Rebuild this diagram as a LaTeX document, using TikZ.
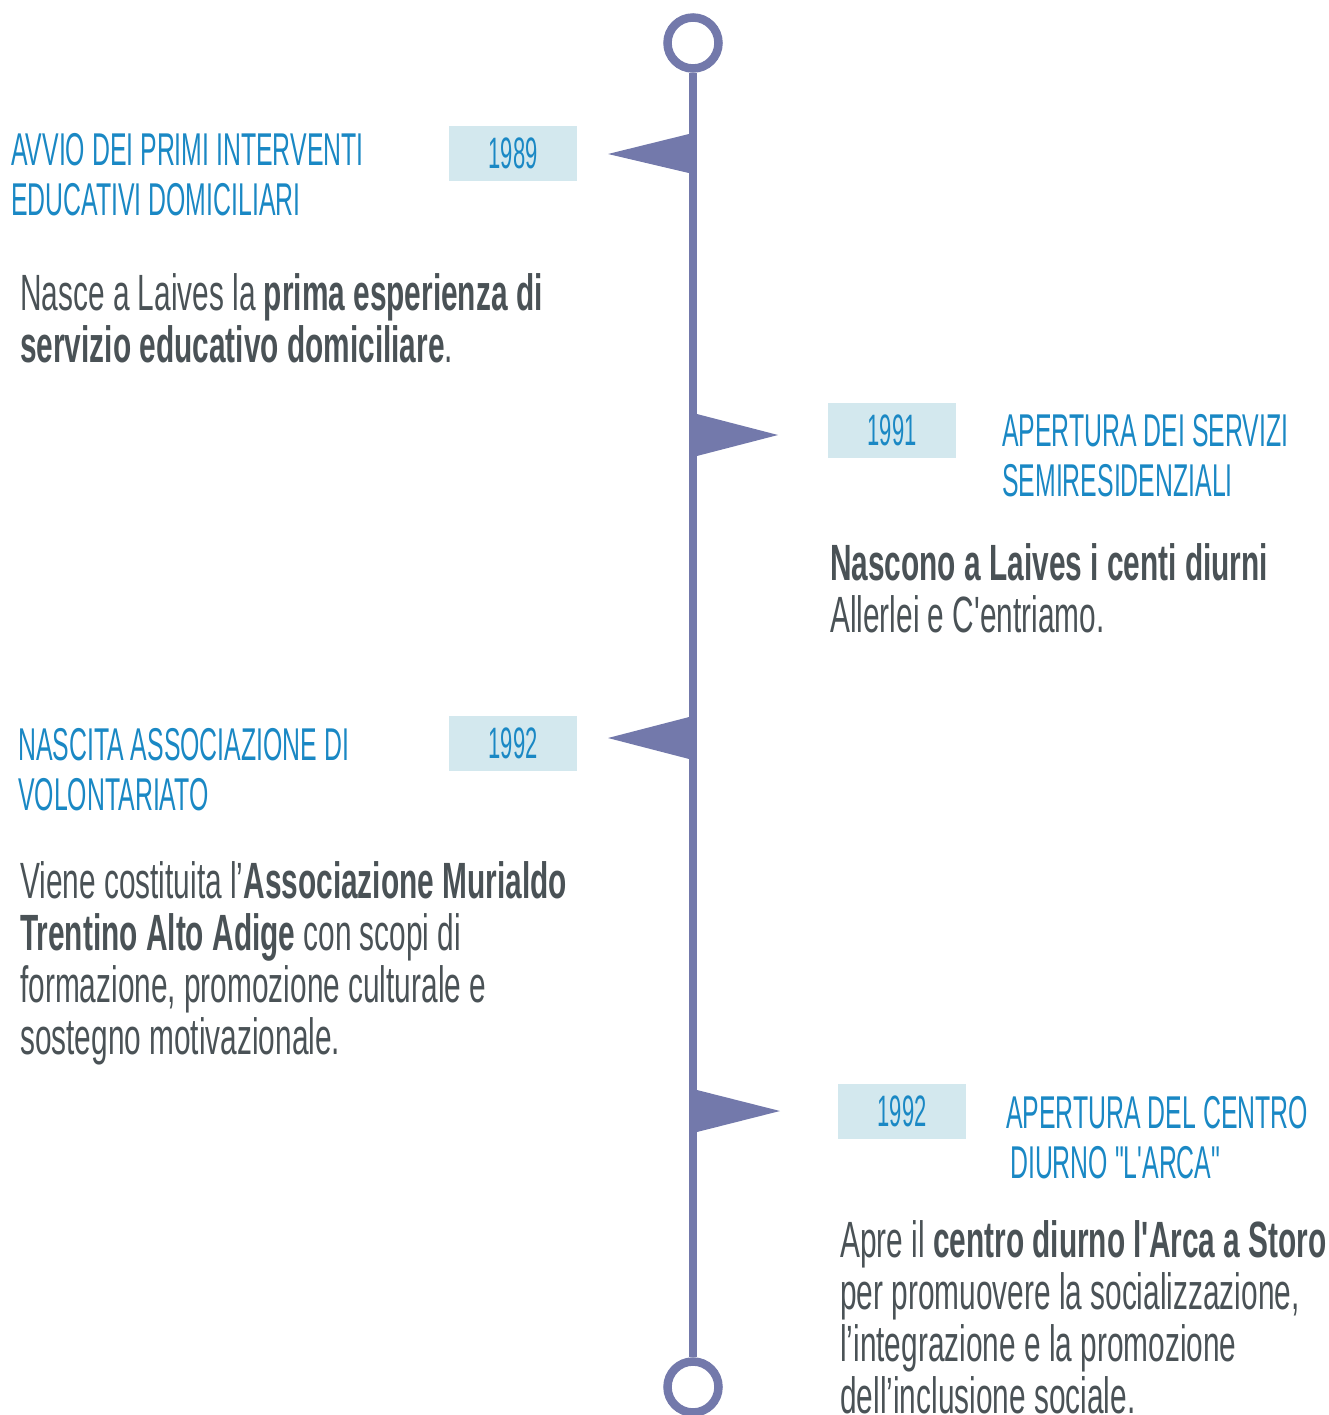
\documentclass[tikz,border=0pt]{standalone}
\usepackage{fontspec}
\setmainfont{Liberation Sans}[FakeStretch=0.585]
\newfontfamily\bodyfont{Liberation Sans}[FakeStretch=0.585]
\newfontfamily\headfont{Liberation Sans}[FakeStretch=0.54]
\newfontfamily\yearfont{Liberation Sans}[FakeStretch=0.5]
\definecolor{spine}{HTML}{7379AB}
\definecolor{headblue}{HTML}{1A88C4}
\definecolor{yearbox}{HTML}{D3E8EE}
\definecolor{bodygray}{HTML}{4A5256}
\begin{document}
\begin{tikzpicture}[x=1pt,y=-1pt,
  ring/.style={circle, draw=spine, line width=8.5pt, minimum size=51pt, inner sep=0pt, fill=white},
  flag/.style={fill=spine, draw=none},
  yearlbl/.style={fill=yearbox, minimum width=128pt, minimum height=55pt, inner sep=0pt,
    text=headblue, font=\yearfont\fontsize{44}{44}\selectfont},
  headline/.style={anchor=base west, inner sep=0pt, text=headblue, font=\headfont\fontsize{46}{50}\selectfont},
  bodyline/.style={anchor=base west, inner sep=0pt, text=bodygray, font=\bodyfont\fontsize{51}{52}\selectfont}]
\useasboundingbox (0,0) rectangle (1328,1415);

% timeline spine with its end rings
\node[ring] (top) at (693,43) {};
\node[ring] (bot) at (693,1387) {};
\draw[spine, line width=8.5pt] (top.south) -- (bot.north);

% pennants on the spine
\fill[flag] (693,133) -- (608,154) -- (693,174) -- cycle;
\fill[flag] (693,413) -- (778,435) -- (693,457) -- cycle;
\fill[flag] (693,716) -- (608,738) -- (693,760) -- cycle;
\fill[flag] (693,1089) -- (780,1111) -- (693,1133) -- cycle;

% 1989
\node[yearlbl] (y1) at (513,153.5) {1989};
\node[headline] (h1a) at (11,166) {AVVIO DEI PRIMI INTERVENTI};
\node[headline] (h1b) at (11,216) {EDUCATIVI DOMICILIARI};
\node[bodyline] (b1a) at (20,310) {Nasce a Laives la \textbf{prima esperienza di}};
\node[bodyline] (b1b) at (20,362) {\textbf{servizio educativo domiciliare}.};

% 1991
\node[yearlbl] (y2) at (892,430) {1991};
\node[headline] (h2a) at (1002,446) {APERTURA DEI SERVIZI};
\node[headline] (h2b) at (1002,496) {SEMIRESIDENZIALI};
\node[bodyline] (b2a) at (830,580) {\textbf{Nascono a Laives i centi diurni}};
\node[bodyline] (b2b) at (830,632) {Allerlei e C'entriamo.};

% 1992, association
\node[yearlbl] (y3) at (513,743.5) {1992};
\node[headline] (h3a) at (18,760) {NASCITA ASSOCIAZIONE DI};
\node[headline] (h3b) at (18,810) {VOLONTARIATO};
\node[bodyline] (b3a) at (20,898) {Viene costituita l’\textbf{Associazione Murialdo}};
\node[bodyline] (b3b) at (20,950) {\textbf{Trentino Alto Adige} con scopi di};
\node[bodyline] (b3c) at (20,1002) {formazione, promozione culturale e};
\node[bodyline] (b3d) at (20,1054) {sostegno motivazionale.};

% 1992, day centre
\node[yearlbl] (y4) at (902,1111) {1992};
\node[headline] (h4a) at (1006,1128) {APERTURA DEL CENTRO};
\node[headline] (h4b) at (1010,1178) {DIURNO "L'ARCA"};
\node[bodyline] (b4a) at (840,1257) {Apre il \textbf{centro diurno l'Arca a Storo}};
\node[bodyline] (b4b) at (840,1309) {per promuovere la socializzazione,};
\node[bodyline] (b4c) at (840,1361) {l’integrazione e la promozione};
\node[bodyline] (b4d) at (840,1413) {dell’inclusione sociale.};
\end{tikzpicture}
\end{document}
